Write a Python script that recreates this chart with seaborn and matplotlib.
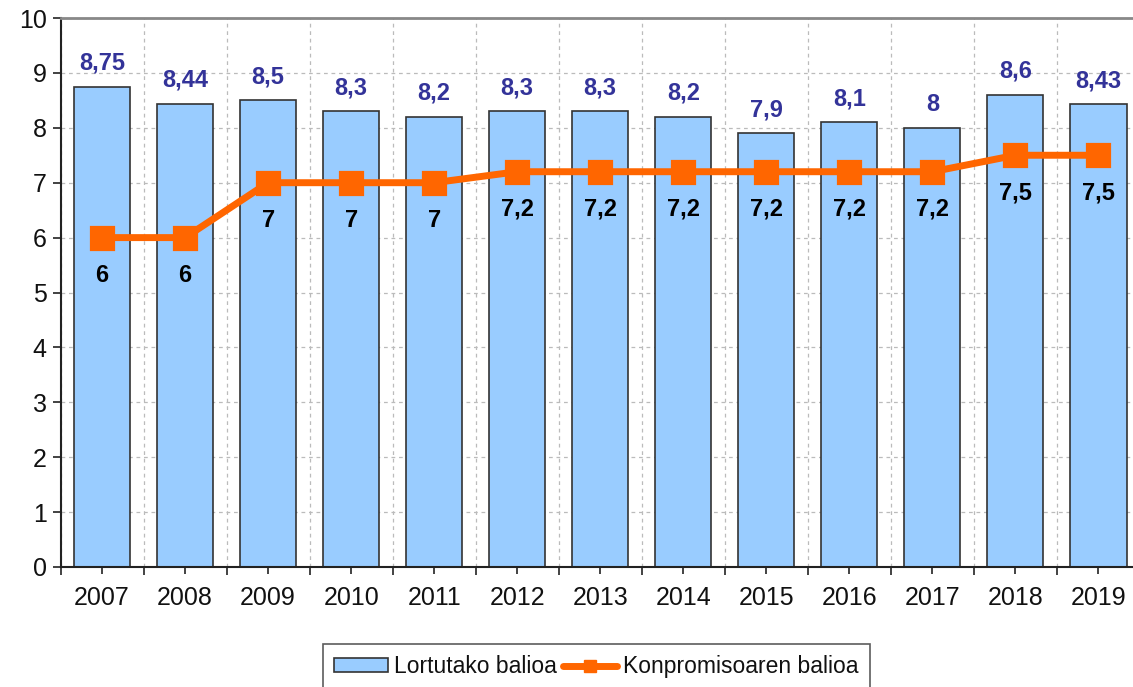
import numpy as np
import matplotlib
matplotlib.use("Agg")
import matplotlib.pyplot as plt
import seaborn as sns
from matplotlib.patches import Patch
from matplotlib.lines import Line2D
from matplotlib.ticker import MultipleLocator, FixedLocator

# datuak
years = ["2007", "2008", "2009", "2010", "2011", "2012", "2013",
         "2014", "2015", "2016", "2017", "2018", "2019"]
achieved = [8.75, 8.44, 8.5, 8.3, 8.2, 8.3, 8.3, 8.2, 7.9, 8.1, 8.0, 8.6, 8.43]
commitment = [6, 6, 7, 7, 7, 7.2, 7.2, 7.2, 7.2, 7.2, 7.2, 7.5, 7.5]
bar_label = "Lortutako balioa"
line_label = "Konpromisoaren balioa"

sns.set_style("white")
plt.rcParams["font.family"] = ["Liberation Sans", "DejaVu Sans"]

bar_color = "#99CCFF"
line_color = "#FF6600"

fig = plt.figure(figsize=(11.33, 6.87), dpi=100)
ax = fig.add_axes([60.5 / 1133, 1 - 567 / 687, (1140 - 60.5) / 1133, (567 - 18) / 687])

sns.barplot(x=years, y=achieved, color=bar_color, saturation=1,
            edgecolor="#333333", linewidth=1.2, width=0.675, ax=ax, zorder=2)
sns.pointplot(x=years, y=commitment, color=line_color, markers="s",
              markersize=15, linewidth=5, errorbar=None, ax=ax)
for coll in ax.collections:
    coll.set_zorder(4)
for ln in ax.lines:
    ln.set_zorder(4)

# etiketak
def fmt(v):
    return f"{v:g}".replace(".", ",")

for i, v in enumerate(achieved):
    ax.annotate(fmt(v), (i, v), xytext=(0, 17), textcoords="offset points",
                ha="center", va="center", fontsize=17, fontweight="bold",
                color="#333399")
for i, v in enumerate(commitment):
    ax.annotate(fmt(v), (i, v), xytext=(0, -27), textcoords="offset points",
                ha="center", va="center", fontsize=17, fontweight="bold",
                color="black", zorder=5)

ax.set_xlim(-0.5, len(years) - 0.5)
ax.set_ylim(0, 10)
ax.yaxis.set_major_locator(MultipleLocator(1))
ax.xaxis.set_minor_locator(FixedLocator(np.arange(-0.5, len(years), 1)))

ax.grid(False)
ax.yaxis.grid(True, which="major", linestyle=(0, (3, 3)), color="#BBBBBB", linewidth=0.9, zorder=0)
ax.xaxis.grid(True, which="minor", linestyle=(0, (3, 3)), color="#BBBBBB", linewidth=0.9, zorder=0)
ax.set_axisbelow(True)

ax.tick_params(axis="x", which="major", length=5, width=1.2, color="#222222",
               direction="out", labelsize=18, pad=9, bottom=True)
ax.tick_params(axis="x", which="minor", length=6, width=1.2, color="#222222",
               direction="out", bottom=True)
ax.tick_params(axis="y", length=6, width=1.2, color="#222222", direction="out",
               labelsize=18, pad=4, left=True)
for lab in ax.get_xticklabels() + ax.get_yticklabels():
    lab.set_color("#111111")

ax.set_xlabel("")
ax.set_ylabel("")
ax.spines["left"].set_color("#222222")
ax.spines["left"].set_linewidth(1.5)
ax.spines["bottom"].set_color("#222222")
ax.spines["bottom"].set_linewidth(1.5)
ax.spines["top"].set_color("#888888")
ax.spines["top"].set_linewidth(2)
ax.spines["right"].set_visible(False)

handles = [
    Patch(facecolor=bar_color, edgecolor="#333333", linewidth=1.2),
    Line2D([0], [0], color=line_color, linewidth=5, marker="s", markersize=8),
]
leg = fig.legend(handles, [bar_label, line_label], loc="upper left",
                 bbox_to_anchor=(322.5 / 1133, 1 - 644 / 687), ncol=2, frameon=True,
                 fancybox=False, fontsize=16.5, handlelength=2.35, handletextpad=0.25,
                 columnspacing=0.3, borderpad=0.5, borderaxespad=0, handleheight=0.55)
leg.get_frame().set_edgecolor("#333333")
leg.get_frame().set_linewidth(1.2)
for t in leg.get_texts():
    t.set_color("#111111")

fig.savefig("out.png", dpi=100)
